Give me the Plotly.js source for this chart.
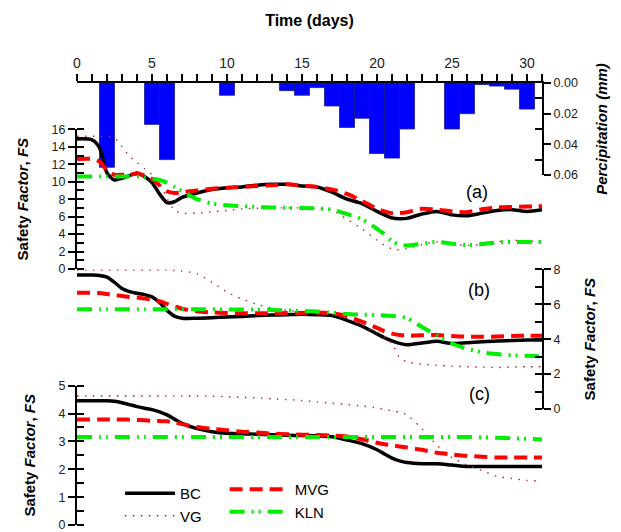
<!DOCTYPE html>
<html>
<head>
<meta charset="utf-8">
<script src="https://cdn.plot.ly/plotly-3.0.1.min.js"></script>
<style>html,body{margin:0;padding:0;background:#fff;}#chart{width:621px;height:532px;}</style>
</head>
<body>
<div id="chart"></div>
<script>
// Time grid (days)
const days = [0,1,1.5,2,2.5,3,3.5,4,4.5,5,5.5,6,6.5,7,8,9,10,11,12,13,14,15,16,17,18,19,20,20.5,21,21.5,22,23,24,25,26,27,28,29,30,31];

// Precipitation (mm)
const rainDays = [2,5,6,10,14,15,16,17,18,19,20,21,22,25,26,27,28,29,30];
const rain = [0.055,0.027,0.050,0.008,0.005,0.008,0.003,0.015,0.029,0.023,0.046,0.049,0.030,0.030,0.020,0.001,0.002,0.004,0.017];

// Panel (a)
const bcA  = [14.9,14.8,13.9,11.0,10.2,10.4,10.7,11.0,10.6,9.9,8.6,7.6,7.7,8.2,8.7,9.1,9.3,9.4,9.6,9.7,9.7,9.5,9.4,8.8,8.0,7.5,6.6,6.2,5.85,5.75,5.8,6.3,6.6,6.2,6.1,6.4,6.7,6.8,6.6,6.8];
const vgA  = [15.2,15.2,15.2,15.2,15.0,14.0,12.9,12.2,11.5,10.8,9.8,8.1,6.7,6.4,6.4,6.55,6.7,6.9,6.95,7.0,7.0,7.0,6.9,6.7,5.7,4.6,3.3,2.7,2.3,2.2,2.35,2.8,3.1,2.8,2.7,2.8,3.1,3.3,3.2,3.1];
const mvgA = [12.6,12.6,12.3,11.3,10.8,10.8,10.8,10.9,10.7,10.3,9.6,8.9,8.7,8.8,9.0,9.2,9.3,9.4,9.5,9.6,9.7,9.55,9.4,9.1,8.6,7.8,6.9,6.6,6.4,6.4,6.5,6.9,6.8,6.6,6.5,6.85,7.05,7.1,7.15,7.2];
const klnA = [10.6,10.6,10.6,10.6,10.6,10.6,10.6,10.6,10.5,10.35,10.2,9.9,9.4,8.9,8.0,7.5,7.3,7.2,7.1,7.05,7.0,7.0,6.95,6.8,6.3,5.7,4.6,4.0,3.2,2.8,2.7,2.9,3.1,2.9,2.75,2.85,3.05,3.1,3.1,3.1];

// Panel (b)
const bcB  = [7.67,7.67,7.65,7.55,7.25,6.9,6.72,6.63,6.55,6.42,6.1,5.65,5.32,5.2,5.2,5.23,5.27,5.3,5.35,5.38,5.4,5.42,5.4,5.35,5.08,4.75,4.3,4.08,3.9,3.76,3.68,3.78,3.88,3.75,3.8,3.85,3.9,3.92,3.95,3.95];
const vgB  = [7.95,7.95,7.95,7.95,7.95,7.95,7.95,7.95,7.95,7.95,7.95,7.95,7.93,7.9,7.75,7.25,6.7,6.3,6.0,5.78,5.65,5.58,5.5,5.4,5.15,4.82,4.35,4.1,3.75,2.95,2.7,2.57,2.5,2.45,2.42,2.4,2.38,2.4,2.42,2.42];
const mvgB = [6.66,6.66,6.64,6.58,6.52,6.47,6.42,6.38,6.33,6.28,6.18,6.02,5.88,5.74,5.6,5.53,5.5,5.48,5.48,5.48,5.5,5.5,5.52,5.48,5.32,5.0,4.65,4.45,4.32,4.24,4.2,4.22,4.24,4.18,4.14,4.14,4.15,4.18,4.2,4.2];
const klnB = [5.71,5.71,5.71,5.71,5.71,5.71,5.71,5.71,5.71,5.71,5.71,5.71,5.71,5.71,5.71,5.71,5.7,5.7,5.69,5.67,5.65,5.62,5.58,5.52,5.44,5.4,5.38,5.36,5.33,5.29,5.2,4.7,4.2,3.75,3.45,3.25,3.15,3.08,3.05,3.02];

// Panel (c)
const bcC  = [4.46,4.46,4.46,4.46,4.44,4.39,4.32,4.25,4.19,4.14,4.06,3.95,3.8,3.65,3.46,3.35,3.29,3.27,3.26,3.24,3.22,3.21,3.2,3.17,3.05,2.92,2.7,2.55,2.4,2.3,2.24,2.2,2.2,2.15,2.1,2.1,2.1,2.1,2.1,2.1];
const vgC  = [4.63,4.63,4.63,4.63,4.63,4.63,4.63,4.63,4.63,4.63,4.63,4.63,4.63,4.63,4.63,4.62,4.6,4.58,4.56,4.53,4.5,4.47,4.42,4.37,4.32,4.27,4.2,4.15,4.1,4.05,3.95,3.45,2.85,2.42,2.15,1.95,1.75,1.67,1.6,1.58];
const mvgC = [3.79,3.79,3.79,3.79,3.79,3.79,3.78,3.77,3.76,3.74,3.73,3.72,3.68,3.62,3.52,3.45,3.4,3.35,3.32,3.28,3.26,3.24,3.23,3.21,3.18,3.08,2.95,2.9,2.86,2.82,2.78,2.7,2.59,2.53,2.48,2.45,2.42,2.42,2.42,2.42];
const klnC = [3.16,3.16,3.16,3.16,3.16,3.16,3.16,3.16,3.16,3.16,3.16,3.16,3.16,3.16,3.16,3.16,3.16,3.16,3.16,3.16,3.16,3.16,3.16,3.16,3.16,3.16,3.16,3.16,3.16,3.16,3.16,3.16,3.16,3.16,3.16,3.15,3.13,3.11,3.09,3.07];

const seriesNames = ['BC','VG','MVG','KLN'];
const tickText14 = ['0','5','10','15','20','25','30'];

const FONT = 'Liberation Sans, Arial, sans-serif';
const styles = {
  BC:  {color:'#000000', width:3.5, dash:'solid'},
  VG:  {color:'#b52a2a', width:1.4, dash:'1.5px,6.5px'},
  MVG: {color:'#ff0000', width:4,   dash:'13px,7px'},
  KLN: {color:'#00ee00', width:4,   dash:'15px,7px,2px,5px,2px,7px'}
};

const panels = [
  {axis:'y2', data:[bcA, vgA, mvgA, klnA], legend:false},
  {axis:'y3', data:[bcB, vgB, mvgB, klnB], legend:false},
  {axis:'y4', data:[bcC, vgC, mvgC, klnC], legend:true}
];

const traces = [{
  type:'bar', x:rainDays, y:rain, xaxis:'x', yaxis:'y', width:1,
  marker:{color:'#0000ff', line:{color:'#1a1a8c', width:0.8}},
  showlegend:false, hoverinfo:'skip'
}];

panels.forEach(p => {
  p.data.forEach((vals, i) => {
    const name = seriesNames[i];
    traces.push({
      type:'scatter', mode:'lines', x:days, y:vals, xaxis:'x', yaxis:p.axis,
      name:name, line:Object.assign({shape:'spline', smoothing:0.7}, styles[name]),
      showlegend:p.legend, legend:(i===0||i===1)?'legend':'legend2'
    });
  });
});

const yBase = {
  showgrid:false, zeroline:false, showline:true, linecolor:'#000', linewidth:2,
  ticks:'outside', ticklen:7, tickwidth:2, tickcolor:'#000', anchor:'x', automargin:false,
  ticklabeloverflow:'allow',
  tickfont:{family:FONT, size:12.5, color:'#222'}, fixedrange:true,
  title:{font:{family:FONT, size:15, color:'#000'}}
};
function yax(extra){ return Object.assign({}, JSON.parse(JSON.stringify(yBase)), extra); }

const layout = {
  width:621, height:532,
  margin:{l:77, r:79, t:83, b:7, autoexpand:false},
  paper_bgcolor:'#ffffff', plot_bgcolor:'rgba(0,0,0,0)',
  font:{family:FONT, color:'#000'},
  bargap:0,
  xaxis:{
    range:[0,31], side:'top', anchor:'y', showgrid:false, zeroline:false, automargin:false,
    showline:true, linecolor:'#000', linewidth:2, mirror:false,
    ticks:'outside', ticklen:7, tickwidth:2, tickcolor:'#000',
    tickvals:[0,5,10,15,20,25,30], ticktext:tickText14,
    minor:{dtick:1, tick0:0, ticks:'outside', ticklen:7, tickwidth:2, tickcolor:'#000'},
    tickfont:{family:FONT, size:14, color:'#222'},
    title:{text:'<b>Time (days)</b>', font:{family:FONT, size:16, color:'#000'}, standoff:25},
    fixedrange:true
  },
  yaxis: yax({
    domain:[0.792,1], range:[0.06,0], side:'right',
    tickvals:[0,0.02,0.04,0.06], ticktext:['0.00','0.02','0.04','0.06'],
    minor:{tickvals:[0.01,0.03,0.05], ticks:'inside', ticklen:7, tickwidth:2, tickcolor:'#000'},
    title:{text:'<b><i>Percipitation (mm)</i></b>', font:{family:FONT, size:15, color:'#000'}, standoff:20}
  }),
  yaxis2: yax({
    domain:[0.5792,0.8952], range:[0,16], side:'left', dtick:2, tick0:0,
    minor:{dtick:1, tick0:0, ticks:'inside', ticklen:7, tickwidth:2, tickcolor:'#000'},
    title:{text:'<b>Safety <i>Factor</i>, <i>FS</i></b>', font:{family:FONT, size:15, color:'#000'}, standoff:19}
  }),
  yaxis3: yax({
    domain:[0.2624,0.5785], range:[0,8], side:'right', dtick:2, tick0:0,
    minor:{dtick:1, tick0:0, ticks:'inside', ticklen:7, tickwidth:2, tickcolor:'#000'},
    title:{text:'<b>Safety <i>Factor</i>, <i>FS</i></b>', font:{family:FONT, size:15, color:'#000'}, standoff:25}
  }),
  yaxis4: yax({
    domain:[0,0.3152], range:[0,5], side:'left', dtick:1, tick0:0,
    minor:{dtick:0.5, tick0:0, ticks:'inside', ticklen:7, tickwidth:2, tickcolor:'#000'},
    title:{text:'<b>Safety <i>Factor</i>, <i>FS</i></b>', font:{family:FONT, size:15, color:'#000'}, standoff:19}
  }),
  legend:{x:0.0925, y:0.1086, xanchor:'left', yanchor:'top', bgcolor:'rgba(0,0,0,0)',
    borderwidth:0, itemwidth:50, font:{family:FONT, size:15, color:'#000'}, tracegroupgap:0},
  legend2:{x:0.3175, y:0.1176, xanchor:'left', yanchor:'top', bgcolor:'rgba(0,0,0,0)',
    borderwidth:0, itemwidth:60, font:{family:FONT, size:15, color:'#000'}, tracegroupgap:0},
  annotations:[
    {text:'(a)', xref:'paper', yref:'paper', x:0.888, y:0.781, showarrow:false, font:{family:FONT, size:18, color:'#000'}},
    {text:'(b)', xref:'paper', yref:'paper', x:0.892, y:0.532, showarrow:false, font:{family:FONT, size:18, color:'#000'}},
    {text:'(c)', xref:'paper', yref:'paper', x:0.892, y:0.269, showarrow:false, font:{family:FONT, size:18, color:'#000'}}
  ]
};

Plotly.newPlot('chart', traces, layout, {displayModeBar:false, staticPlot:true});
</script>
</body>
</html>
